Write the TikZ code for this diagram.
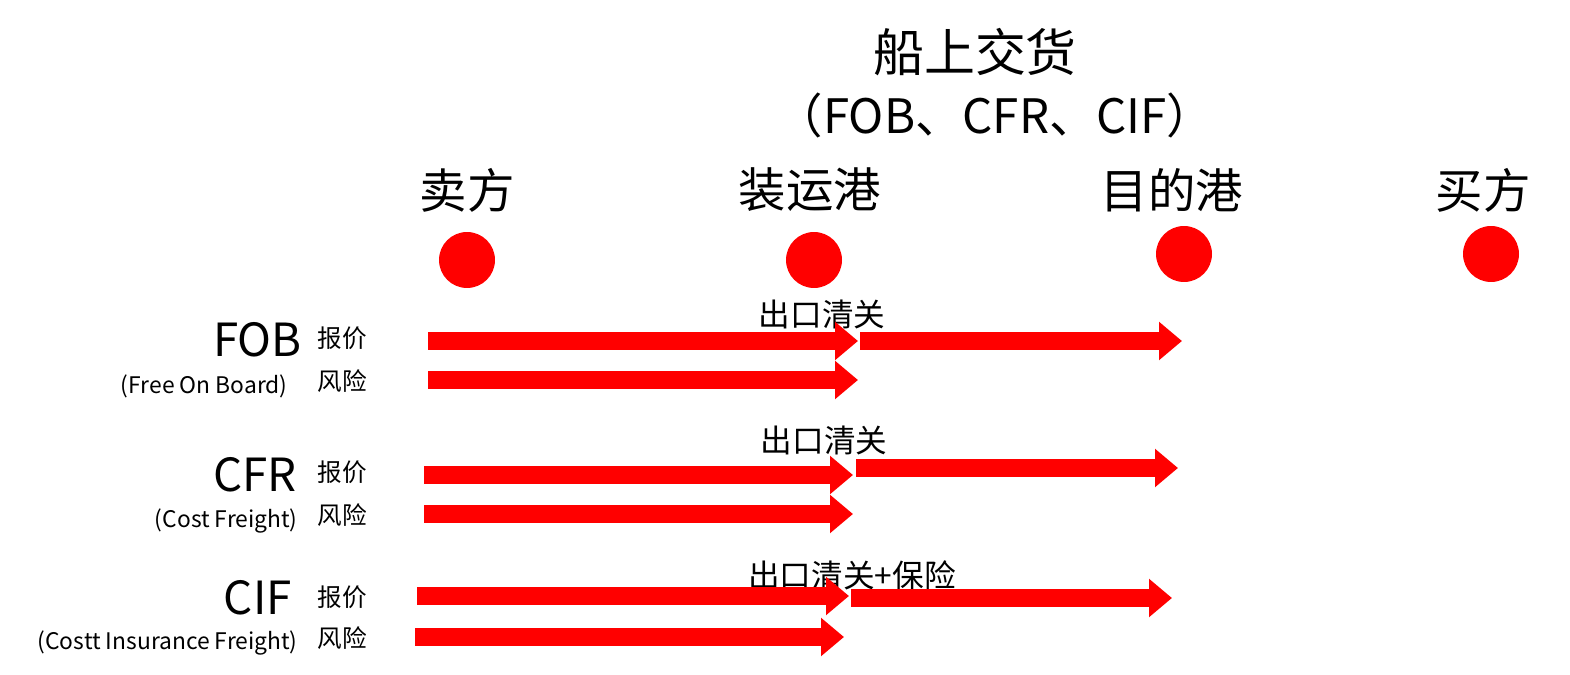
\documentclass[tikz,border=0pt]{standalone}
\usepackage{fontspec}
\setmainfont{Noto Sans CJK SC}
\usetikzlibrary{arrows.meta}
\tikzset{
  ar/.style={draw=red, line width=0.36cm, -{Triangle[length=0.46cm,width=0.74cm]}},
  dot/.style={circle, fill=red, minimum size=1.12cm, inner sep=0pt},
  big/.style={font=\fontsize{27}{30}\selectfont, inner sep=0pt},
  code/.style={font=\fontsize{26}{30}\selectfont, anchor=east, inner sep=0pt},
  sub/.style={font=\fontsize{13}{15}\selectfont, anchor=east, inner sep=0pt},
  lab/.style={font=\fontsize{14}{16}\selectfont, inner sep=0pt},
  note/.style={font=\fontsize{18}{20}\selectfont, inner sep=0pt}
}
\begin{document}
\begin{tikzpicture}[x=0.02cm,y=-0.02cm]
\useasboundingbox (0,0) rectangle (1570,675);
\node[big,font=\fontsize{29}{32}\selectfont] (t1) at (975,52) {船上交货};
\node[big,font=\fontsize{27}{32}\selectfont] (t2) at (995,115) {（FOB、CFR、CIF）};
\node[big] (s) at (467,190) {卖方};
\node[big] (p1) at (810,190) {装运港};
\node[big] (p2) at (1172,190) {目的港};
\node[big] (b) at (1483,190) {买方};
\node[dot] (d1) at (467,260) {};
\node[dot] (d2) at (814,260) {};
\node[dot] (d3) at (1184,254) {};
\node[dot] (d4) at (1491,254) {};
% FOB
\node[code] (fob) at (302,340) {FOB};
\node[sub] (fobs) at (288,386) {(Free On Board)};
\node[lab] (fq) at (342,338) {报价};
\node[lab] (fr) at (342,381) {风险};
\node[note] (fn) at (822,314) {出口清关};
\coordinate (a1) at (428,341); \coordinate (a2) at (858,341);
\coordinate (a3) at (860,341); \coordinate (a4) at (1182,341);
\coordinate (a5) at (428,380); \coordinate (a6) at (858,380);
\draw[ar] (a1) -- (a2); \draw[ar] (a3) -- (a4); \draw[ar] (a5) -- (a6);
% CFR
\node[code] (cfr) at (297,475) {CFR};
\node[sub] (cfrs) at (298,521) {(Cost Freight)};
\node[lab] (cq) at (342,472) {报价};
\node[lab] (cr) at (342,515) {风险};
\node[note] (cn) at (824,440) {出口清关};
\coordinate (b1) at (424,475); \coordinate (b2) at (853,475);
\coordinate (b3) at (856,468); \coordinate (b4) at (1178,468);
\coordinate (b5) at (424,514); \coordinate (b6) at (853,514);
\draw[ar] (b1) -- (b2); \draw[ar] (b3) -- (b4); \draw[ar] (b5) -- (b6);
% CIF
\node[code] (cif) at (292,598) {CIF};
\node[sub] (cifs) at (298,643) {(Costt Insurance Freight)};
\node[lab] (iq) at (342,597) {报价};
\node[lab] (ir) at (342,638) {风险};
\node[note,anchor=west] (in) at (748,575) {出口清关+保险};
\coordinate (c1) at (417,596); \coordinate (c2) at (849,596);
\coordinate (c3) at (851,598); \coordinate (c4) at (1172,598);
\coordinate (c5) at (415,637); \coordinate (c6) at (844,637);
\draw[ar] (c1) -- (c2); \draw[ar] (c3) -- (c4); \draw[ar] (c5) -- (c6);
\end{tikzpicture}
\end{document}
